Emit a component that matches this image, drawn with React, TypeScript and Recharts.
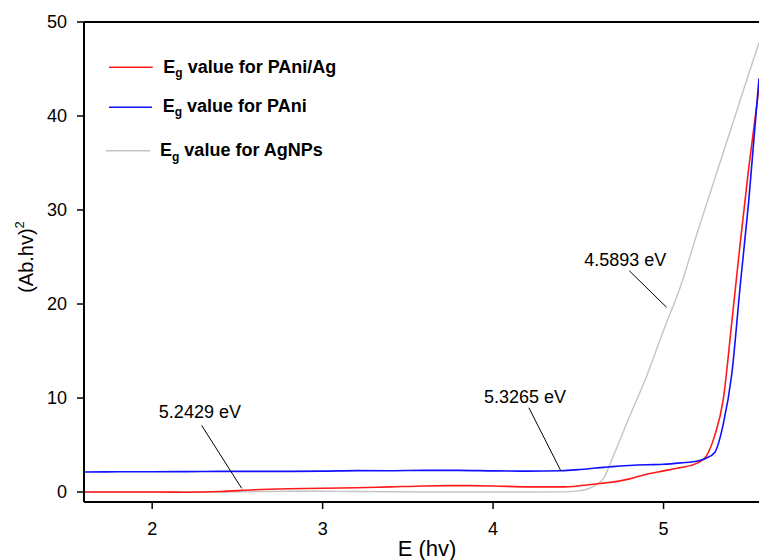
import React from "react";
import {
  LineChart,
  Line,
  XAxis,
  YAxis,
  ReferenceLine,
  ReferenceDot,
  Customized,
} from "recharts";

// Photon energy E (hv)
const energy = [
  1.6, 1.8, 2.0, 2.2, 2.4, 2.6, 2.8, 3.0, 3.2, 3.4, 3.6, 3.8, 4.0, 4.2, 4.4, 4.5,
  4.55, 4.6, 4.65, 4.7, 4.8, 4.9, 5.0, 5.1, 5.2, 5.25, 5.3, 5.35, 5.4, 5.45, 5.5,
  5.56,
];
// (Ab.hv)^2 for PAni/Ag
const paniAg = [
  0.0, 0.0, 0.0, -0.02, 0.05, 0.25, 0.35, 0.4, 0.45, 0.55, 0.65, 0.68, 0.65, 0.55,
  0.55, 0.65, 0.75, 0.85, 0.95, 1.05, 1.4, 1.9, 2.25, 2.6, 3.1, 3.8, 6.0, 9.8, 18,
  26.5, 34.5, 43,
];
// (Ab.hv)^2 for PAni
const pani = [
  2.13, 2.15, 2.15, 2.17, 2.2, 2.2, 2.2, 2.22, 2.28, 2.27, 2.3, 2.3, 2.25, 2.22,
  2.27, 2.38, 2.45, 2.55, 2.62, 2.7, 2.82, 2.9, 2.95, 3.1, 3.3, 3.6, 4.2, 7.2, 12.5,
  22, 31, 44,
];
// (Ab.hv)^2 for AgNPs
const agNPs = [
  0.0, 0.0, 0.0, 0.0, 0.0, 0.05, 0.08, 0.08, 0.05, 0.03, 0.0, 0.0, 0.0, 0.0, 0.02,
  0.12, 0.3, 0.7, 1.5, 3.6, 8.0, 12.3, 17.2, 21.9, 27.7, 30.5, 33.3, 36.1, 38.9,
  41.7, 44.5, 47.8,
];

const xTicks = [2, 3, 4, 5];
const yTicks = [0, 10, 20, 30, 40, 50];

// Band-gap annotations: label anchor and leader line, in data units
const annotLabels = ["5.2429 eV", "5.3265 eV", "4.5893 eV"];
const annotTextX = [2.28, 4.187, 4.775];
const annotTextY = [8.54, 10.14, 24.68];
const annotFromX = [2.29, 4.21, 4.799];
const annotFromY = [7.09, 8.97, 23.54];
const annotToX = [2.525, 4.397, 5.018];
const annotToY = [0.39, 2.27, 19.65];

const legendNames = ["PAni/Ag", "PAni", "AgNPs"];
const RED = "#ff1a1a";
const BLUE = "#1010ff";
const GRAY = "#c4c4c4";

const data = energy.map((e, i) => ({
  e,
  paniAg: paniAg[i],
  pani: pani[i],
  agNPs: agNPs[i],
}));

const FONT = 'Arial, "Liberation Sans", sans-serif';

const Overlay = () => {
  const rows = [
    { color: RED, lx1: 109, lx2: 152.7, ly: 67.3, tx: 163.3, ty: 72.7, w: 1.6 },
    { color: BLUE, lx1: 109, lx2: 152, ly: 107.3, tx: 162.7, ty: 111.7, w: 1.6 },
    { color: GRAY, lx1: 106, lx2: 150, ly: 150.7, tx: 160, ty: 156, w: 1.4 },
  ];
  return (
    <g>
      {rows.map((r, i) => (
        <g key={i}>
          <line x1={r.lx1} x2={r.lx2} y1={r.ly} y2={r.ly} stroke={r.color} strokeWidth={r.w} />
          <text x={r.tx} y={r.ty} fontFamily={FONT} fontWeight="bold" fontSize={18} fill="#000">
            <tspan>E</tspan>
            <tspan fontSize={12} dy={4.5}>g</tspan>
            <tspan dy={-4.5}>{" value for " + legendNames[i]}</tspan>
          </text>
        </g>
      ))}
      <text x={427} y={556} textAnchor="middle" fontFamily={FONT} fontSize={22} fill="#000">
        E (hv)
      </text>
      <text
        x={33}
        y={257}
        textAnchor="middle"
        fontFamily={FONT}
        fontSize={20}
        fill="#000"
        transform="rotate(-90, 33, 257)"
      >
        <tspan>(Ab.hv)</tspan>
        <tspan fontSize={13} dy={-9}>2</tspan>
      </text>
    </g>
  );
};

export default function App() {
  return (
    <div
      style={{
        position: "absolute",
        left: 0,
        top: 0,
        width: 759,
        height: 560,
        overflow: "hidden",
      }}
    >
      <LineChart
        width={759}
        height={560}
        data={data}
        margin={{ top: 22, right: 0, bottom: 28, left: 24 }}
      >
        <XAxis
          dataKey="e"
          type="number"
          domain={[1.6, 5.56]}
          ticks={xTicks}
          allowDataOverflow
          height={30}
          tickSize={7}
          tickMargin={13}
          axisLine={{ stroke: "#000", strokeWidth: 2 }}
          tickLine={{ stroke: "#000", strokeWidth: 1.5 }}
          tick={{ fontSize: 18, fill: "#000", fontFamily: FONT }}
        />
        <YAxis
          type="number"
          domain={[-1.06, 50]}
          ticks={yTicks}
          allowDataOverflow
          width={60}
          tickSize={7}
          tickMargin={10}
          axisLine={{ stroke: "#000", strokeWidth: 2 }}
          tickLine={{ stroke: "#000", strokeWidth: 1.5 }}
          tick={{ fontSize: 18, fill: "#000", fontFamily: FONT }}
        />
        <ReferenceLine y={50} stroke="#000" strokeWidth={2} />
        <Line
          dataKey="agNPs"
          type="monotone"
          stroke={GRAY}
          strokeWidth={1.4}
          dot={false}
          isAnimationActive={false}
        />
        <Line
          dataKey="paniAg"
          type="monotone"
          stroke={RED}
          strokeWidth={1.6}
          dot={false}
          isAnimationActive={false}
        />
        <Line
          dataKey="pani"
          type="monotone"
          stroke={BLUE}
          strokeWidth={1.6}
          dot={false}
          isAnimationActive={false}
        />
        {annotLabels.map((lab, i) => (
          <ReferenceLine
            key={"l" + i}
            segment={[
              { x: annotFromX[i], y: annotFromY[i] },
              { x: annotToX[i], y: annotToY[i] },
            ]}
            stroke="#000"
            strokeWidth={1}
          />
        ))}
        {annotLabels.map((lab, i) => (
          <ReferenceDot
            key={"t" + i}
            x={annotTextX[i]}
            y={annotTextY[i]}
            r={0}
            fill="none"
            stroke="none"
            label={{
              value: lab,
              position: "center",
              fontSize: 18,
              fill: "#000",
              fontFamily: FONT,
            }}
          />
        ))}
        <Customized component={Overlay} />
      </LineChart>
    </div>
  );
}
